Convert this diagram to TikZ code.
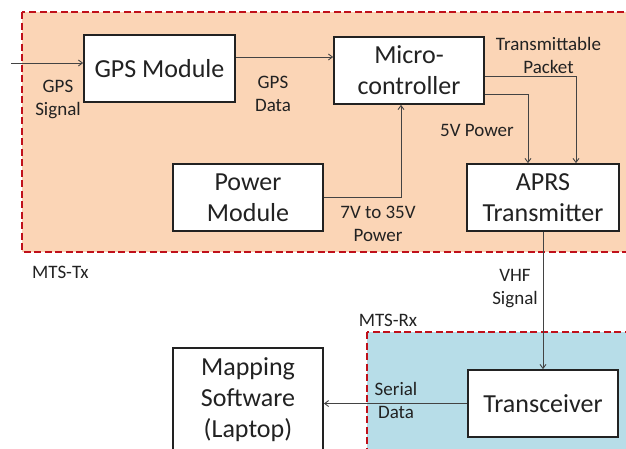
\documentclass[tikz,border=0pt]{standalone}
\usepackage{fontspec}
\setmainfont{Carlito}
\usetikzlibrary{arrows.meta}
\definecolor{txfill}{HTML}{FBD5B6}
\definecolor{rxfill}{HTML}{B7DDE8}
\definecolor{zone}{HTML}{C0101A}
\definecolor{ink}{HTML}{222222}
\tikzset{
  block/.style={draw=ink, line width=1.8pt, fill=white, align=center,
    text=ink, font=\fontsize{26}{31}\selectfont, inner sep=0pt},
  lbl/.style={align=center, text=ink, font=\fontsize{19}{23}\selectfont, inner sep=0pt},
  zonebox/.style={draw=zone, line width=2.2pt, dash pattern=on 7pt off 3.5pt},
  arr/.style={draw=ink!85, line width=0.9pt, -{Straight Barb[length=4pt,width=6pt]}},
}
\begin{document}
\begin{tikzpicture}[x=1pt,y=-1pt]
  \useasboundingbox (0,0) rectangle (626,448);
  \clip (0,0) rectangle (626,448);

  % system zones
  \fill[txfill] (22,12) rectangle (650,252);
  \draw[zonebox] (22,12) rectangle (650,252);
  \fill[rxfill] (367,332) rectangle (650,470);
  \draw[zonebox] (367,332) rectangle (650,470);

  % blocks
  \node[block, minimum width=151pt, minimum height=67pt] (gps) at (159.5,68.5) {GPS Module};
  \node[block, minimum width=150pt, minimum height=67pt] (micro) at (409,70.5) {Micro-\\controller};
  \node[block, minimum width=150pt, minimum height=67pt] (power) at (248,197.5) {Power\\Module};
  \node[block, minimum width=152pt, minimum height=67pt] (aprs) at (543,197.5) {APRS\\Transmitter};
  \node[block, minimum width=150pt, minimum height=67pt] (trans) at (543,403.5) {Transceiver};
  \node[block, minimum width=150pt, minimum height=104pt] (map) at (248,400) {Mapping\\Software\\(Laptop)};

  % connectors
  \coordinate (gpsin) at (11,63);
  \draw[arr] (gpsin) -- (gpsin -| gps.west);
  \draw[arr] ([yshift=11.5pt]gps.east) -- ([yshift=11.5pt]gps.east -| micro.west);
  \draw[arr] ([yshift=-5.5pt]micro.east) -| ([xshift=33pt]aprs.north);
  \draw[arr] ([yshift=-23.5pt]micro.east) -| ([xshift=-15pt]aprs.north);
  \draw[arr] (power.east) -| ([xshift=-8pt]micro.south);
  \draw[arr] (aprs.south) -- (trans.north);
  \draw[arr] (trans.west) -- (trans.west -| map.east);

  % labels
  \node[lbl] (lgpssig) at (58,99) {GPS\\Signal};
  \node[lbl] (lgpsdat) at (273,93.5) {GPS\\Data};
  \node[lbl] (lpkt) at (548.5,55) {Transmittable\\Packet};
  \node[lbl] (l5v) at (477,130) {5V Power};
  \node[lbl] (l7v) at (378,223.5) {7V to 35V\\Power};
  \node[lbl, anchor=west] (ltx) at (32,272) {MTS-Tx};
  \node[lbl] (lvhf) at (515,288.5) {VHF\\Signal};
  \node[lbl] (lrx) at (388,320) {MTS-Rx};
  \node[lbl] (lser) at (396,400.5) {Serial\\Data};
\end{tikzpicture}
\end{document}
